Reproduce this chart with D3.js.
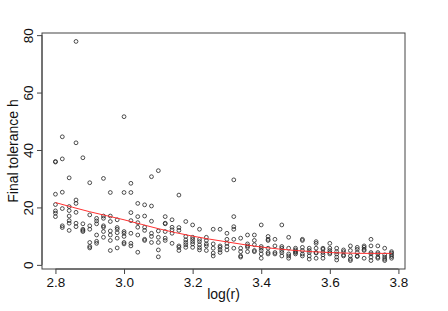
<!DOCTYPE html>
<html>
<head>
<meta charset="utf-8">
<script src="https://cdn.jsdelivr.net/npm/d3@7"></script>
<style>
  body { margin: 0; background: #fff; }
  text { font-family: "Liberation Sans", Arial, sans-serif; }
</style>
</head>
<body>
<svg id="chart" width="448" height="311"></svg>
<script>
// log(r) for each column of points
const logR = [2.80, 2.82, 2.84, 2.86, 2.88, 2.90, 2.92, 2.94, 2.96, 2.98,
              3.00, 3.02, 3.04, 3.06, 3.08, 3.10, 3.12, 3.14, 3.16, 3.18,
              3.20, 3.22, 3.24, 3.26, 3.28, 3.30, 3.32, 3.34, 3.36, 3.38,
              3.40, 3.42, 3.44, 3.46, 3.48, 3.50, 3.52, 3.54, 3.56, 3.58,
              3.60, 3.62, 3.64, 3.66, 3.68, 3.70, 3.72, 3.74, 3.76, 3.78];

// final tolerance h values in each column
const tolerance = [
  [36, 35.8, 24.6, 21, 18.8, 18, 16.8],
  [44.6, 36.9, 25.3, 19.6, 13.6, 13],
  [30.3, 20.3, 18.9, 17, 15.4, 14.5, 12],
  [77.8, 42.5, 22.6, 21.4, 18.3, 14.5, 13.3],
  [37.3, 14.3, 12.4, 12, 11.6],
  [28.6, 17.4, 13.6, 12.4, 7.8, 6.4, 5.9],
  [16.2, 15.3, 14.3, 10.4, 8.2, 7.5],
  [30.1, 17, 16.2, 13.6, 13.1, 11.6, 9.6],
  [25.2, 17, 15.1, 11.8, 10.4, 8.5, 5],
  [15.7, 13, 12.4, 11.2, 9.3, 5.9],
  [51.6, 25.2, 11.6, 11, 9.9, 7.8, 7.3],
  [28.4, 25.2, 18.2, 15.4, 11, 7.5, 6.6],
  [21.4, 16.8, 14.7, 13.1, 10.4, 4.4],
  [20.9, 17, 13.1, 12, 8.9, 8.5],
  [30.7, 20.5, 15.2, 11, 9.9, 7.8],
  [32.8, 11.8, 9.6, 7.8, 5.2, 2.8],
  [16.8, 14.5, 14.3, 11.6, 9.3, 8.5],
  [15.7, 13.1, 12.2, 11, 7.5],
  [24.3, 13, 12, 6.6, 6.1, 5],
  [15.1, 9.9, 8.7, 7.8, 7, 6.1],
  [13.9, 9.6, 8.9, 8.1, 7.3, 6.1],
  [12.4, 8.9, 8.1, 7, 6, 5.2],
  [9.6, 8.5, 7.3, 6.6, 5],
  [12.4, 7.3, 5.8, 4.1, 3.1],
  [12.4, 6.6, 6.1, 5.2, 4.3],
  [11, 8.9, 7.5, 6.4, 5.2],
  [29.6, 16.8, 13.3, 12.4, 8.9, 5.8],
  [9.3, 5.8, 4.6, 3.1, 2.7],
  [10.4, 7.3, 6.6, 6.1, 4.6],
  [10.4, 8.5, 7, 5, 4.6],
  [13.9, 6.4, 5.8, 5, 3.8, 2.3],
  [9.9, 8.9, 8.5, 5.8, 4.3, 3.8],
  [8.9, 6.6, 4.3, 3.8],
  [13.9, 6.4, 5.8, 5, 4.3, 3.1],
  [9.6, 5.8, 3.8, 3.1, 2.3],
  [5.8, 5.2, 4.6, 4.3, 3.8],
  [8.9, 8.5, 6.1, 5, 3.8, 3.1],
  [5.8, 5, 4.3, 3.1, 2],
  [8.1, 7.5, 5.8, 4.3, 4.1, 2.3],
  [5.8, 5.4, 4.3, 3.5, 2.3],
  [7.5, 5.8, 5, 4.3, 3.8],
  [5.8, 4.6, 3.8, 2.7, 1.7],
  [5.2, 4.6, 3.5, 3.1],
  [6.6, 5, 3.1, 2, 1.5],
  [6.1, 5.4, 4.3, 3.1, 2.9],
  [6.6, 6.1, 5.4, 5, 2.3],
  [8.9, 6.6, 4.3, 3.8, 2.7, 1.5],
  [6.6, 4.3, 3.8, 2.7, 2.3],
  [5.8, 3.5, 2.7, 2, 1.5],
  [4.6, 4.1, 3.5, 2.9, 2.3]
];

// fitted trend (red line)
const fitX = [2.8, 2.9, 3.0, 3.1, 3.2, 3.3, 3.4, 3.5, 3.6, 3.7, 3.78];
const fitY = [21.7, 18.5, 15.7, 12.6, 10.0, 8.0, 6.2, 5.0, 4.3, 4.0, 4.0];

const xTicks = [2.8, 3.0, 3.2, 3.4, 3.6, 3.8];
const yTicks = [0, 20, 40, 60, 80];

const plotLeft = 42, plotRight = 405, plotTop = 33, plotBottom = 269;

const points = [];
logR.forEach((lx, i) => tolerance[i].forEach(h => points.push({ x: lx, h: h })));

const x = d3.scaleLinear().domain([2.7608, 3.8192]).range([plotLeft, plotRight]);
const y = d3.scaleLinear().domain([-1.44, 80.74]).range([plotBottom, plotTop]);

const svg = d3.select("#chart");

// box
svg.append("rect")
    .attr("x", plotLeft)
    .attr("y", plotTop)
    .attr("width", plotRight - plotLeft)
    .attr("height", plotBottom - plotTop)
    .attr("fill", "none")
    .attr("stroke", "#444")
    .attr("stroke-width", 1);

// x axis
const xAxis = svg.append("g")
    .attr("transform", `translate(0,${plotBottom})`)
    .call(d3.axisBottom(x).tickValues(xTicks).tickFormat(d3.format(".1f")).tickSize(5).tickPadding(3));
xAxis.select(".domain").attr("d", `M${x(2.8)},0H${x(3.8)}`).attr("stroke", "#444");
xAxis.selectAll(".tick line").attr("stroke", "#444");
xAxis.selectAll("text").attr("font-size", 13.5).attr("fill", "#111");

// y axis, labels turned like R does
const yAxis = svg.append("g")
    .attr("transform", `translate(${plotLeft},0)`)
    .call(d3.axisLeft(y).tickValues(yTicks).tickSize(5));
yAxis.select(".domain").attr("d", `M0,${y(0)}V${y(80)}`).attr("stroke", "#444");
yAxis.selectAll(".tick line").attr("stroke", "#444");
yAxis.selectAll("text")
    .attr("x", 0)
    .attr("dy", 0)
    .attr("transform", "translate(-9,0) rotate(-90)")
    .attr("text-anchor", "middle")
    .attr("font-size", 13.5)
    .attr("fill", "#111");

// axis titles
svg.append("text")
    .attr("x", (plotLeft + plotRight) / 2)
    .attr("y", 298.5)
    .attr("text-anchor", "middle")
    .attr("font-size", 14)
    .attr("fill", "#111")
    .text("log(r)");

svg.append("text")
    .attr("transform", `translate(17.5,${(plotTop + plotBottom) / 2}) rotate(-90)`)
    .attr("text-anchor", "middle")
    .attr("font-size", 14)
    .attr("fill", "#111")
    .text("Final tolerance h");

// points
svg.append("g")
    .selectAll("circle")
    .data(points)
    .join("circle")
    .attr("cx", d => x(d.x))
    .attr("cy", d => y(d.h))
    .attr("r", 1.9)
    .attr("fill", "none")
    .attr("stroke", "#222")
    .attr("stroke-width", 0.8);

// trend line
const line = d3.line()
    .x((d, i) => x(fitX[i]))
    .y(d => y(d))
    .curve(d3.curveMonotoneX);

svg.append("path")
    .attr("d", line(fitY))
    .attr("fill", "none")
    .attr("stroke", "#ff3030")
    .attr("stroke-width", 1);
</script>
</body>
</html>
